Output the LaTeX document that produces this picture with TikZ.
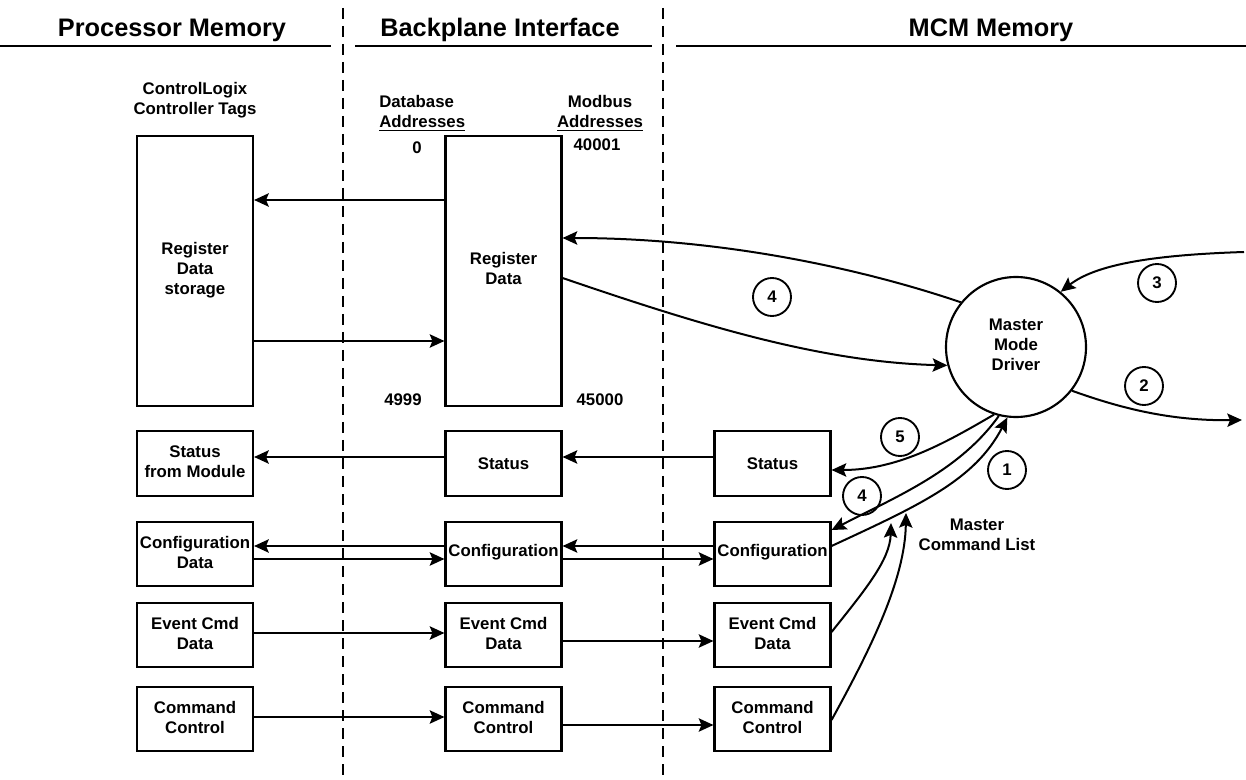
\documentclass[tikz,border=0pt]{standalone}
\usepackage{fontspec}
\setmainfont{Liberation Sans}
\usetikzlibrary{arrows.meta}
\newcommand\txt[2][0pt]{\raisebox{#1}{\begin{tabular}{@{}c@{}}#2\end{tabular}}}
\begin{document}
\begin{tikzpicture}[x=0.75pt,y=-0.75pt,
  every node/.style={font=\fontsize{12.6}{15}\selectfont\bfseries, inner sep=0pt},
  box/.style={draw, line width=1.6pt, minimum width=87pt, rectangle},
  bigbox/.style={box, minimum height=202.5pt},
  rowbox/.style={box, minimum height=48.5pt},
  arr/.style={line width=1.5pt, -{Stealth[length=11pt,width=10pt,inset=2pt]}},
  num/.style={draw, circle, line width=1.4pt, minimum size=28.5pt},
  hdr/.style={font=\fontsize{19}{23}\selectfont\bfseries, anchor=base},
  sep/.style={line width=1.9pt, dash pattern=on 8.5pt off 5pt},
  uline/.style={line width=1.9pt},
]
\useasboundingbox (0,0) rectangle (1246,780);

% headers
\node[hdr] (h1) at (172,37) {Processor Memory};
\node[hdr] (h2) at (500,37) {Backplane Interface};
\node[hdr] (h3) at (991,37) {MCM Memory};
\draw[uline] (0,46) -- (331,46);
\draw[uline] (355,46) -- (652,46);
\draw[uline] (676,46) -- (1246,46);

% separators
\draw[sep] (343,8) -- (343,780);
\draw[sep] (663,8) -- (663,780);

% labels
\node (tags) at (195,101) {\txt{ControlLogix\\Controller Tags}};
\node[anchor=west] (dba) at (379,114) {\begin{tabular}{@{}l@{}}Database\\\underline{Addresses}\end{tabular}};
\node (mba) at (600,114) {\txt{Modbus\\\underline{Addresses}}};
\node (a0) at (417,148) {0};
\node (a40001) at (597,145) {40001};
\node (a4999) at (403,400) {4999};
\node (a45000) at (600,400) {45000};

% boxes
\node[bigbox] (L1) at (195,271) {\txt{Register\\Data\\storage}};
\node[bigbox] (M1) at (503.5,271) {\txt{Register\\Data}};

\node[rowbox] (L2) at (195,463.5) {\txt{Status\\from Module}};
\node[rowbox] (M2) at (503.5,463.5) {Status};
\node[rowbox] (R2) at (772.5,463.5) {Status};

\node[rowbox] (L3) at (195,554) {\txt{Configuration\\Data}};
\node[rowbox] (M3) at (503.5,554) {\raisebox{6pt}{Configuration}};
\node[rowbox] (R3) at (772.5,554) {\raisebox{6pt}{Configuration}};

\node[rowbox] (L4) at (195,635) {\txt{Event Cmd\\Data}};
\node[rowbox] (M4) at (503.5,635) {\txt[5pt]{Event Cmd\\Data}};
\node[rowbox] (R4) at (772.5,635) {\txt[5pt]{Event Cmd\\Data}};

\node[rowbox] (L5) at (195,719) {\txt{Command\\Control}};
\node[rowbox] (M5) at (503.5,719) {\txt{Command\\Control}};
\node[rowbox] (R5) at (772.5,719) {\txt{Command\\Control}};

% driver
\node[draw, circle, line width=1.6pt, minimum size=105pt] (drv) at (1016,347) {\txt{Master\\Mode\\Driver}};
\node (mcl) at (977,536) {\txt{Master\\Command List}};

% step numbers
\node[num] (c4a) at (772,297) {4};
\node[num] (c3) at (1157,283) {3};
\node[num] (c2) at (1144,386) {2};
\node[num] (c5) at (900,437) {5};
\node[num] (c4b) at (862,496) {4};
\node[num] (c1) at (1007,470) {1};

% straight connectors
\draw[arr] (M1.west |- 0,200) -- (L1.east |- 0,200);
\draw[arr] (L1.east |- 0,341) -- (M1.west |- 0,341);
\draw[arr] (M2.west |- 0,457) -- (L2.east |- 0,457);
\draw[arr] (R2.west |- 0,457) -- (M2.east |- 0,457);
\draw[arr] (M3.west |- 0,546) -- (L3.east |- 0,546);
\draw[arr] (L3.east |- 0,559) -- (M3.west |- 0,559);
\draw[arr] (R3.west |- 0,546) -- (M3.east |- 0,546);
\draw[arr] (M3.east |- 0,559) -- (R3.west |- 0,559);
\draw[arr] (L4.east |- 0,633) -- (M4.west |- 0,633);
\draw[arr] (M4.east |- 0,641) -- (R4.west |- 0,641);
\draw[arr] (L5.east |- 0,717) -- (M5.west |- 0,717);
\draw[arr] (M5.east |- 0,725) -- (R5.west |- 0,725);

% curved connectors
\draw[arr] (drv.141.8) .. controls (860,268) and (720,238) .. (M1.east |- 0,238);
\draw[arr] (M1.east |- 0,278) .. controls (700,325) and (820,362) .. (drv.195);
\coordinate (in3) at (1244,252);
\draw[arr] (in3) .. controls (1150,255) and (1095,265) .. (drv.51.5);
\coordinate (out2) at (1242,420);
\draw[arr] (drv.-38) .. controls (1120,408) and (1170,421) .. (out2);
\draw[arr] (drv.-108) .. controls (950,440) and (900,470) .. (R2.east |- 0,470);
\draw[arr] (drv.-104.6) .. controls (960,470) and (900,495) .. (R3.east |- 0,530);
\draw[arr] (R3.east |- 0,546) .. controls (920,505) and (975,480) .. (drv.-97);
\coordinate (m1) at (891,523);
\draw[arr] (R4.east |- 0,632) .. controls (865,590) and (890,560) .. (m1);
\coordinate (m2) at (906,513);
\draw[arr] (R5.east |- 0,720) .. controls (870,650) and (905,580) .. (m2);
\end{tikzpicture}
\end{document}
